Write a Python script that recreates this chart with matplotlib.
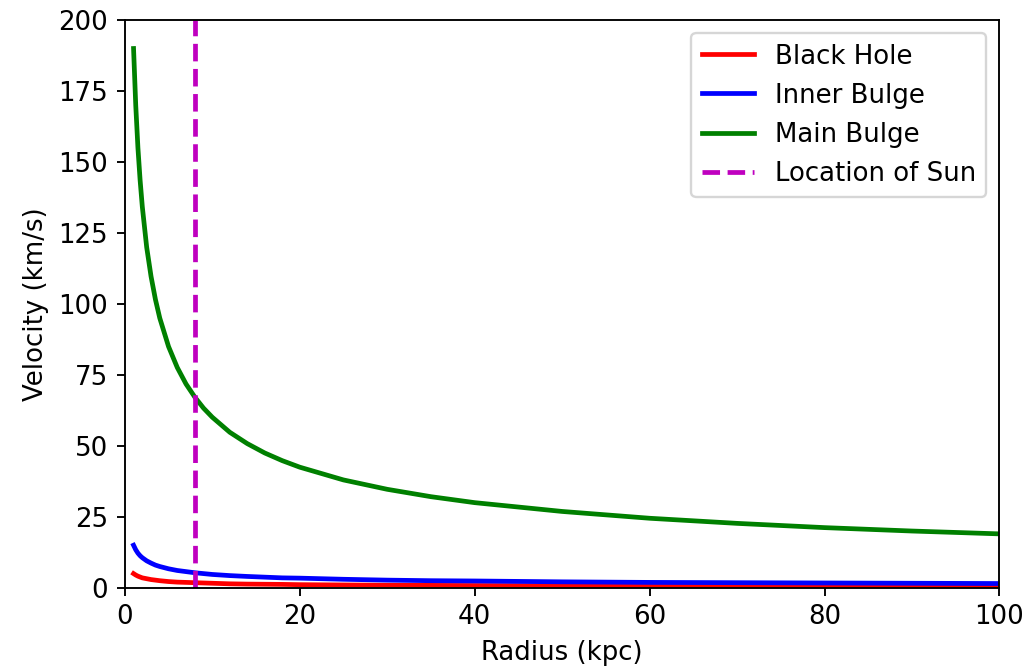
import matplotlib
matplotlib.use("Agg")
import matplotlib.pyplot as plt

# values
radius = [1, 1.25, 1.5, 1.75, 2, 2.5, 3, 3.5, 4, 5, 6, 7, 8, 9, 10, 12, 14, 16, 18, 20,
          25, 30, 35, 40, 50, 60, 70, 80, 90, 100]
v_black_hole = [5, 4.5, 4.1, 3.8, 3.5, 3.2, 2.9, 2.7, 2.5, 2.2, 2.0, 1.9, 1.8, 1.7, 1.6,
                1.4, 1.3, 1.25, 1.2, 1.1, 1.0, 0.9, 0.85, 0.8, 0.7, 0.65, 0.6, 0.56, 0.53, 0.5]
v_inner_bulge = [15, 13.4, 12.2, 11.3, 10.6, 9.5, 8.7, 8.0, 7.5, 6.7, 6.1, 5.7, 5.3, 5.0, 4.7,
                 4.3, 4.0, 3.75, 3.5, 3.4, 3.0, 2.7, 2.5, 2.4, 2.1, 1.9, 1.8, 1.7, 1.6, 1.5]
v_main_bulge = [190, 170, 155, 143.6, 134.3, 120, 109.7, 101.6, 95, 85, 77.6, 71.8, 67.2, 63.3,
                60.1, 54.8, 50.8, 47.5, 44.8, 42.5, 38, 34.7, 32.1, 30, 26.9, 24.5, 22.7,
                21.2, 20, 19]
sun_radius = 8
y_range = [0, 200]

plt.rcParams['font.size'] = 11
plt.rcParams['lines.linewidth'] = 2

fig = plt.figure(figsize=(6, 671 / 170.5), dpi=170.5)
ax = fig.add_axes([0.122, 0.124, 0.855, 0.846])

ax.plot(radius, v_black_hole, 'r', label='Black Hole')
ax.plot(radius, v_inner_bulge, 'b', label='Inner Bulge')
ax.plot(radius, v_main_bulge, 'g', label='Main Bulge')
ax.plot([sun_radius, sun_radius], y_range, 'm--', label='Location of Sun')

ax.set_xlim(0, 100)
ax.set_ylim(y_range)
ax.set_xlabel('Radius (kpc)')
ax.set_ylabel('Velocity (km/s)')
ax.legend(loc='upper right')

fig.savefig('out.png', dpi=170.5)
